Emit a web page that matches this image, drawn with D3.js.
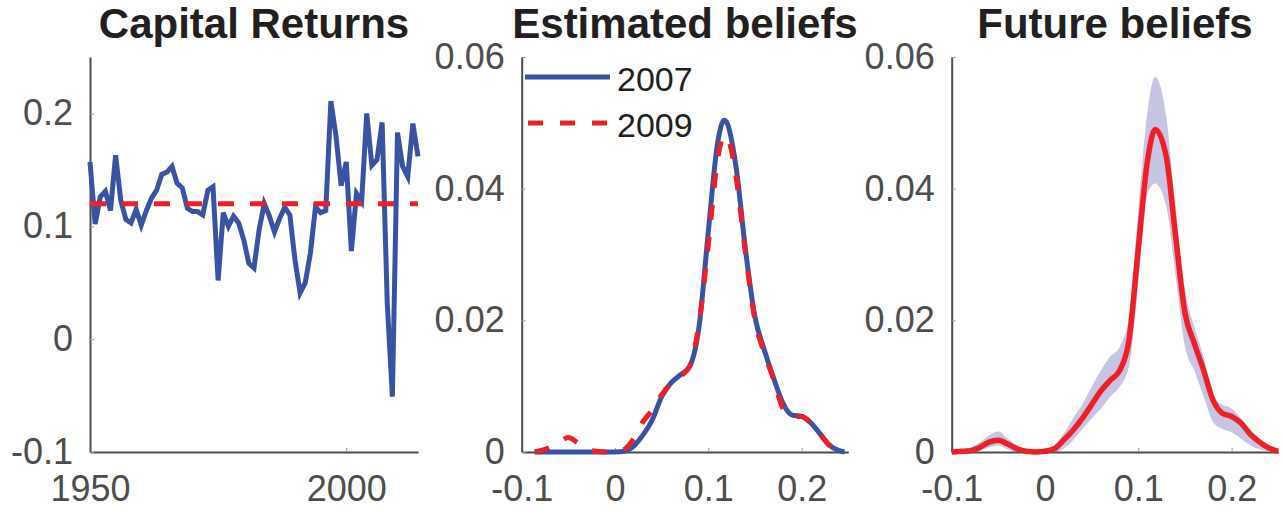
<!DOCTYPE html>
<html>
<head>
<meta charset="utf-8">
<script src="https://cdn.jsdelivr.net/npm/d3@7"></script>
<style>
  body { margin: 0; background: #fff; }
  svg { display: block; font-family: "Liberation Sans", Arial, Helvetica, sans-serif; }
  .domain { stroke: #4d4d4d; stroke-width: 2; }
  .tick line { stroke: #9a9a9a; stroke-width: 1; }
  .tick text { fill: #4d4d4d; font-size: 36px; }
  .title { font-size: 42px; font-weight: bold; fill: #231f20; text-anchor: middle; }
</style>
</head>
<body>
<svg id="chart" width="1283" height="510"></svg>
<script>
// Capital returns, one value per year from 1950
const firstYear = 1950;
const returns = [0.157, 0.102, 0.126, 0.131, 0.114, 0.163, 0.123, 0.106, 0.103, 0.115,
  0.101, 0.114, 0.125, 0.132, 0.146, 0.148, 0.153, 0.138, 0.134, 0.116,
  0.113, 0.113, 0.110, 0.132, 0.135, 0.052, 0.112, 0.100, 0.109, 0.103,
  0.088, 0.067, 0.063, 0.097, 0.120, 0.109, 0.095, 0.107, 0.117, 0.110,
  0.070, 0.041, 0.050, 0.076, 0.117, 0.112, 0.114, 0.211, 0.180, 0.136,
  0.157, 0.078, 0.129, 0.122, 0.200, 0.154, 0.159, 0.192, 0.032, -0.051,
  0.183, 0.153, 0.144, 0.191, 0.162];
const meanReturn = 0.12;

// Estimated beliefs (densities)
const estX = [-0.086, -0.08, -0.07, -0.06, -0.05, -0.04, -0.03, -0.02, -0.01, 0,
  0.01, 0.02, 0.03, 0.04, 0.05, 0.06, 0.07, 0.08, 0.09, 0.10,
  0.11, 0.117, 0.12, 0.13, 0.14, 0.15, 0.16, 0.17, 0.18, 0.19,
  0.20, 0.21, 0.22, 0.23, 0.24, 0.246];
const est2007 = [0, 0, 0, 0, 0, 0, 0, 0, 0, 0,
  0.0001, 0.0009, 0.0026, 0.0049, 0.0084, 0.0105, 0.0117, 0.0130, 0.0190, 0.0335,
  0.0470, 0.0504, 0.0500, 0.0430, 0.0305, 0.0205, 0.0155, 0.0112, 0.0074, 0.0056,
  0.0054, 0.0044, 0.0027, 0.0010, 0.0002, 0];
const est2009 = [0, 0.0002, 0.0007, 0.0015, 0.0022, 0.0014, 0.0005, 0.0001, 0, 0,
  0.0004, 0.0020, 0.0046, 0.0064, 0.0087, 0.0104, 0.0115, 0.0130, 0.0195, 0.0315,
  0.0445, 0.0480, 0.0478, 0.0415, 0.0300, 0.0200, 0.0150, 0.0110, 0.0066, 0.0054,
  0.0054, 0.0044, 0.0027, 0.0010, 0.0002, 0];

// Future beliefs: mean and band
const futX = [-0.1, -0.09, -0.08, -0.07, -0.06, -0.05, -0.04, -0.03, -0.02, -0.01,
  0, 0.01, 0.02, 0.03, 0.04, 0.05, 0.06, 0.07, 0.08, 0.09,
  0.10, 0.11, 0.118, 0.13, 0.14, 0.15, 0.16, 0.17, 0.18, 0.19,
  0.20, 0.21, 0.22, 0.23, 0.24, 0.25];
const futMean = [0, 0.0001, 0.0002, 0.0007, 0.0015, 0.0018, 0.0012, 0.0005, 0.0001, 0,
  0.0001, 0.0005, 0.0018, 0.0033, 0.0051, 0.0072, 0.0093, 0.0109, 0.0124, 0.0170,
  0.0310, 0.0444, 0.0490, 0.0448, 0.0327, 0.0211, 0.0165, 0.0124, 0.0079, 0.0059,
  0.0054, 0.0044, 0.0027, 0.0015, 0.0006, 0.0001];
const futUpper = [0.0002, 0.0004, 0.0007, 0.0015, 0.0025, 0.0031, 0.0020, 0.0010, 0.0004, 0.0002,
  0.0004, 0.0010, 0.0028, 0.0051, 0.0072, 0.0099, 0.0124, 0.0145, 0.0160, 0.0206,
  0.0368, 0.0520, 0.0570, 0.0509, 0.0368, 0.0246, 0.0190, 0.0145, 0.0084, 0.0072,
  0.0066, 0.0051, 0.0033, 0.0018, 0.0007, 0.0002];
const futLower = [0, 0, 0, 0.0002, 0.0007, 0.0010, 0.0004, 0, 0, 0,
  0, 0, 0.0005, 0.0018, 0.0035, 0.0051, 0.0066, 0.0084, 0.0099, 0.0130,
  0.0256, 0.0393, 0.0408, 0.0373, 0.0266, 0.0160, 0.0124, 0.0084, 0.0046, 0.0035,
  0.0030, 0.0020, 0.0010, 0.0004, 0.0001, 0];

const yearTicks = [1950, 2000];
const returnTicks = [-0.1, 0, 0.1, 0.2];
const beliefXTicks = [-0.1, 0, 0.1, 0.2];
const densityTicks = [0, 0.02, 0.04, 0.06];

const blue = "#3953a4";
const red = "#ee1f26";
const bandColor = "#c6c6e4";

const svg = d3.select("#chart");
const plotTop = 57, plotBottom = 452;
const fmt = d => String(d);

function drawAxes(g, x, y, xTicks, yTicks) {
  g.append("g")
    .attr("transform", `translate(0,${plotBottom})`)
    .call(d3.axisBottom(x).tickValues(xTicks).tickFormat(fmt)
      .tickSizeInner(-4).tickSizeOuter(0).tickPadding(23));
  g.append("g")
    .attr("transform", `translate(${x.range()[0]},0)`)
    .call(d3.axisLeft(y).tickValues(yTicks).tickFormat(fmt)
      .tickSizeInner(-4).tickSizeOuter(0).tickPadding(17));
}

function addTitle(g, x, text) {
  const [a, b] = x.range();
  g.append("text").attr("class", "title")
    .attr("x", (a + b) / 2).attr("y", 38).text(text);
}

// Panel 1: capital returns
const x1 = d3.scaleLinear().domain([1950, 2014]).range([90, 418]);
const y1 = d3.scaleLinear().domain([-0.1, 0.25]).range([plotBottom, plotTop]);
const g1 = svg.append("g");
drawAxes(g1, x1, y1, yearTicks, returnTicks);

g1.append("path")
  .datum(returns)
  .attr("fill", "none")
  .attr("stroke", blue)
  .attr("stroke-width", 5)
  .attr("d", d3.line().x((d, i) => x1(firstYear + i)).y(d => y1(d)));

g1.append("line")
  .attr("x1", x1(1950)).attr("x2", x1(2014))
  .attr("y1", y1(meanReturn)).attr("y2", y1(meanReturn))
  .attr("stroke", red).attr("stroke-width", 5)
  .attr("stroke-dasharray", "16,16");
addTitle(g1, x1, "Capital Returns");

// Panel 2: estimated beliefs
const x2 = d3.scaleLinear().domain([-0.1, 0.25]).range([521.7, 848.3]);
const y2 = d3.scaleLinear().domain([0, 0.06]).range([plotBottom, plotTop]);
const g2 = svg.append("g");
drawAxes(g2, x2, y2, beliefXTicks, densityTicks);

const line2 = d3.line()
  .x(d => x2(d[0])).y(d => y2(d[1]))
  .curve(d3.curveMonotoneX);

g2.append("path")
  .datum(d3.zip(estX, est2007))
  .attr("fill", "none").attr("stroke", blue).attr("stroke-width", 5)
  .attr("d", line2);
g2.append("path")
  .datum(d3.zip(estX, est2009))
  .attr("fill", "none").attr("stroke", red).attr("stroke-width", 5)
  .attr("stroke-dasharray", "15,17")
  .attr("d", line2);

// legend
const legend = g2.append("g");
legend.append("line")
  .attr("x1", 525).attr("x2", 610).attr("y1", 77).attr("y2", 77)
  .attr("stroke", blue).attr("stroke-width", 5);
legend.append("line")
  .attr("x1", 528).attr("x2", 610).attr("y1", 123).attr("y2", 123)
  .attr("stroke", red).attr("stroke-width", 5)
  .attr("stroke-dasharray", "15,17");
legend.append("text").attr("x", 617).attr("y", 91)
  .attr("font-size", 34).attr("fill", "#231f20").text("2007");
legend.append("text").attr("x", 617).attr("y", 137)
  .attr("font-size", 34).attr("fill", "#231f20").text("2009");
addTitle(g2, x2, "Estimated beliefs");

// Panel 3: future beliefs
const x3 = d3.scaleLinear().domain([-0.1, 0.25]).range([951.7, 1278.3]);
const y3 = d3.scaleLinear().domain([0, 0.06]).range([plotBottom, plotTop]);
const g3 = svg.append("g");

const futRows = futX.map((v, i) => ({ x: v, mean: futMean[i], lo: futLower[i], hi: futUpper[i] }));

g3.append("path")
  .datum(futRows)
  .attr("fill", bandColor)
  .attr("d", d3.area()
    .x(d => x3(d.x)).y0(d => y3(d.lo)).y1(d => y3(d.hi))
    .curve(d3.curveMonotoneX));

drawAxes(g3, x3, y3, beliefXTicks, densityTicks);

g3.append("path")
  .datum(futRows)
  .attr("fill", "none").attr("stroke", red).attr("stroke-width", 5.5)
  .attr("d", d3.line().x(d => x3(d.x)).y(d => y3(d.mean)).curve(d3.curveMonotoneX));
addTitle(g3, x3, "Future beliefs");
</script>
</body>
</html>
